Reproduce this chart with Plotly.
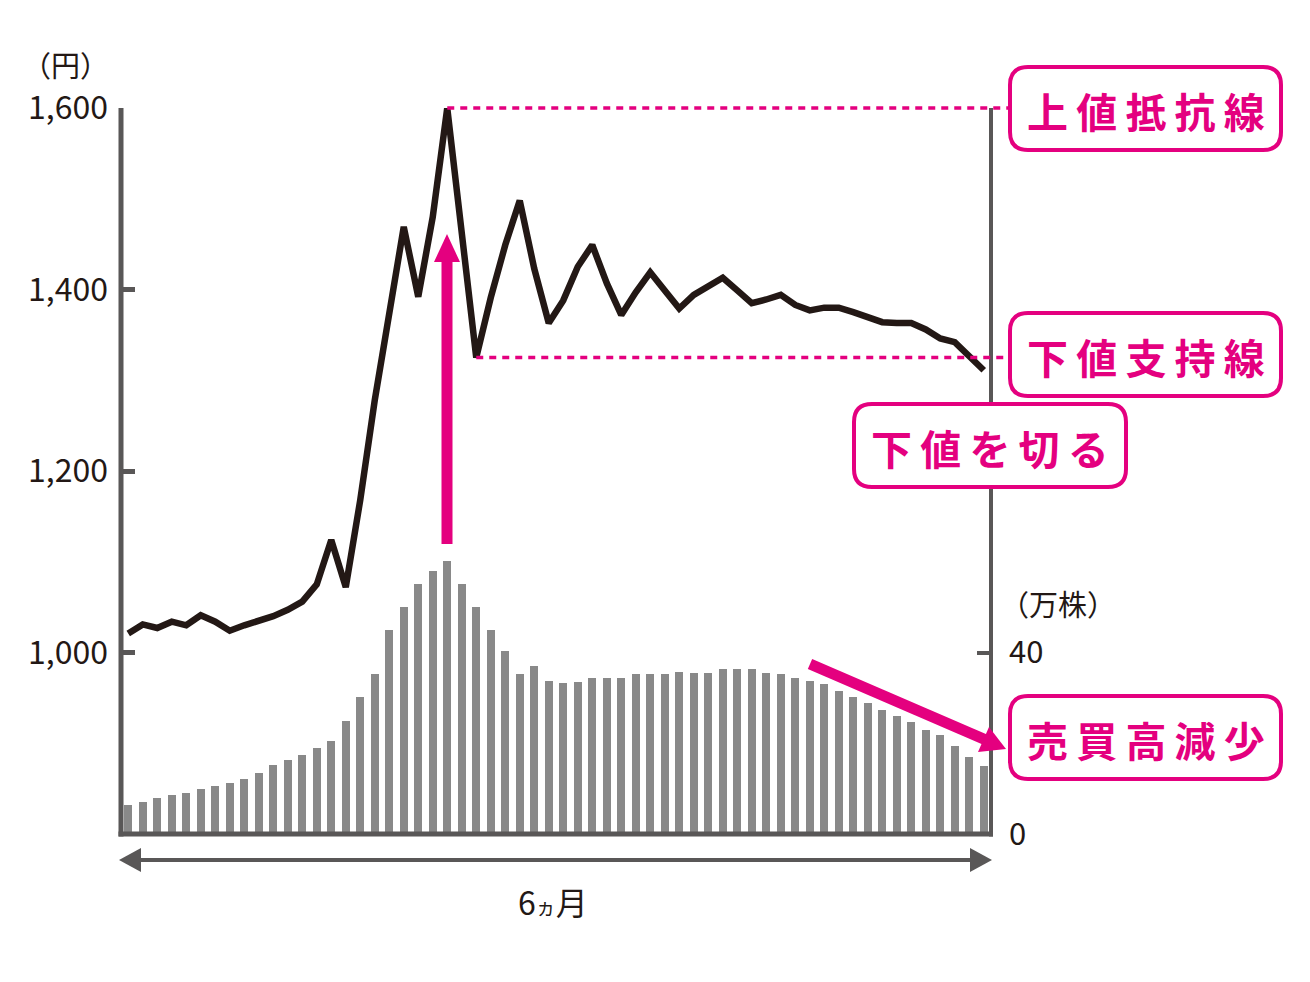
import plotly.graph_objects as go

# ---- data ----
days = list(range(60))
price = [1021, 1031, 1027, 1034, 1030, 1041, 1034, 1024, 1030, 1035,
         1040, 1047, 1056, 1075, 1124, 1072, 1168, 1278, 1377, 1469,
         1392, 1480, 1600, 1463, 1325, 1391, 1449, 1498, 1423, 1363,
         1388, 1425, 1449, 1407, 1372, 1397, 1419, 1399, 1379, 1394,
         1404, 1413, 1399, 1385, 1389, 1394, 1383, 1377, 1380, 1380,
         1375, 1370, 1364, 1363, 1363, 1356, 1346, 1342, 1327, 1311]
volume = [6.4, 7.1, 7.9, 8.6, 9.0, 9.9, 10.6, 11.3, 12.1, 13.5,
          15.2, 16.3, 17.4, 19.0, 20.5, 24.9, 30.2, 35.3, 45.0, 50.1,
          55.2, 58.0, 60.2, 55.2, 50.1, 45.0, 40.4, 35.3, 37.1, 33.8,
          33.3, 33.5, 34.4, 34.4, 34.4, 35.3, 35.3, 35.3, 35.7, 35.5,
          35.5, 36.4, 36.4, 36.4, 35.5, 35.3, 34.4, 33.8, 33.1, 31.6,
          30.2, 28.9, 27.4, 26.0, 24.7, 22.9, 21.8, 19.4, 17.0, 15.0]
price_ticks = [1000, 1200, 1400, 1600]
price_tick_text = ["1,000", "1,200", "1,400", "1,600"]
vol_ticks = [0, 40]
vol_tick_text = ["0", "40"]
resistance = 1600
support = 1325
resistance_idx = 22
support_idx = 24
labels = ["上値抵抗線", "下値支持線", "下値を切る", "売買高減少"]
period_label = "6<span style='font-size:20px'>ヵ</span>月"

P_RANGE = [800, 1600]
V_RANGE = [0, 160]
N = len(days)

MAG = "#E4007F"
AX = "#595757"
INK = "#231815"

W, H = 1310, 982
OFF = 8  # page body margin
L, R, T, B = 121, 991, 108, 834  # plot area in screen pixels


def px(x):
    return (x - L) / (R - L)


def py(y):
    return (B - y) / (B - T)


def idx_paper(i):
    return (i + 0.5) / N


def price_paper(p):
    return (p - P_RANGE[0]) / (P_RANGE[1] - P_RANGE[0])


fig = go.Figure()
fig.add_trace(go.Bar(x=days, y=volume, width=0.55, marker=dict(color="#898989", line=dict(width=0)),
                     yaxis="y", hoverinfo="skip"))
fig.add_trace(go.Scatter(x=days, y=price, mode="lines", line=dict(color=INK, width=6.5, shape="linear"),
                         yaxis="y2", hoverinfo="skip"))

shapes = []
# frame lines centred on the plot edges
shapes.append(dict(type="line", xref="paper", yref="paper", x0=0, x1=0, y0=-2.5 / (B - T), y1=1,
                   line=dict(color=AX, width=5), layer="above"))
shapes.append(dict(type="line", xref="paper", yref="paper", x0=1, x1=1, y0=-2.5 / (B - T), y1=1,
                   line=dict(color=AX, width=4), layer="above"))
shapes.append(dict(type="line", xref="paper", yref="paper", x0=-2.5 / (R - L), x1=1 + 2 / (R - L), y0=0, y1=0,
                   line=dict(color=AX, width=5), layer="above"))

shapes.append(dict(type="line", xref="paper", yref="paper",
                   x0=idx_paper(resistance_idx), x1=px(1010),
                   y0=price_paper(resistance), y1=price_paper(resistance),
                   line=dict(color=MAG, width=3.5, dash="7px,6px"), layer="above"))
shapes.append(dict(type="line", xref="paper", yref="paper",
                   x0=idx_paper(support_idx), x1=px(1010),
                   y0=price_paper(support), y1=price_paper(support),
                   line=dict(color=MAG, width=3.5, dash="7px,6px"), layer="above"))


def tri(p1, p2, p3, color):
    path = "M {},{} L {},{} L {},{} Z".format(px(p1[0]), py(p1[1]), px(p2[0]), py(p2[1]),
                                               px(p3[0]), py(p3[1]))
    return dict(type="path", xref="paper", yref="paper", path=path,
                fillcolor=color, line=dict(width=0), layer="above")


def seg(a, b, color, w):
    return dict(type="line", xref="paper", yref="paper", x0=px(a[0]), y0=py(a[1]),
                x1=px(b[0]), y1=py(b[1]), line=dict(color=color, width=w), layer="above")


# vertical magenta arrow
shapes.append(seg((447, 544), (447, 255), MAG, 11))
shapes.append(tri((447, 234), (434, 262), (460, 262), MAG))
# diagonal magenta arrow
shapes.append(seg((810, 664), (986, 740), MAG, 11))
shapes.append(tri((1006, 749), (978, 752), (989, 727), MAG))
# bottom period arrow
shapes.append(seg((136, 860), (976, 860), AX, 4))
shapes.append(tri((119, 860), (141, 848), (141, 872), AX))
shapes.append(tri((992, 860), (970, 848), (970, 872), AX))


def rbox(x0, y0, x1, y1, r=18):
    rx = r / (R - L)
    ry = r / (B - T)
    X0, X1 = px(x0), px(x1)
    Y0, Y1 = py(y1), py(y0)
    path = (f"M {X0+rx},{Y1} L {X1-rx},{Y1} Q {X1},{Y1} {X1},{Y1-ry} "
            f"L {X1},{Y0+ry} Q {X1},{Y0} {X1-rx},{Y0} "
            f"L {X0+rx},{Y0} Q {X0},{Y0} {X0},{Y0+ry} "
            f"L {X0},{Y1-ry} Q {X0},{Y1} {X0+rx},{Y1} Z")
    return dict(type="path", xref="paper", yref="paper", path=path,
                fillcolor="white", line=dict(color=MAG, width=4), layer="above")


boxes = [(1010, 67, 1281, 150), (1010, 313, 1281, 396), (854, 404, 1126, 487), (1010, 696, 1281, 779)]
for bx in boxes:
    shapes.append(rbox(*bx))

annotations = []
for (x0, y0, x1, y1), lab in zip(boxes, labels):
    txt = "\u2009".join(lab)
    annotations.append(dict(xref="paper", yref="paper", x=px((x0 + x1) / 2), y=py((y0 + y1) / 2 + 1),
                            text="<b>" + txt + "</b>", showarrow=False, xanchor="center", yanchor="middle",
                            font=dict(family="Noto Sans CJK JP", size=41, color=MAG)))

annotations.append(dict(xref="paper", yref="paper", x=px(65), y=py(64), text="（円）", showarrow=False,
                        xanchor="center", yanchor="middle",
                        font=dict(family="Noto Sans CJK JP", size=29, color=INK)))
annotations.append(dict(xref="paper", yref="paper", x=px(1058), y=py(603), text="（万株）", showarrow=False,
                        xanchor="center", yanchor="middle",
                        font=dict(family="Noto Sans CJK JP", size=29, color=INK)))
annotations.append(dict(xref="paper", yref="paper", x=px(553), y=py(901), text=period_label, showarrow=False,
                        xanchor="center", yanchor="middle",
                        font=dict(family="Noto Sans CJK JP", size=32, color=INK)))

fig.update_layout(
    width=W, height=H,
    margin=dict(l=L - OFF, r=W - (R - OFF), t=T - OFF, b=H - (B - OFF), pad=0),
    paper_bgcolor="white", plot_bgcolor="white",
    showlegend=False, bargap=0,
    xaxis=dict(range=[-0.5, N - 0.5], showticklabels=False, ticks="", showgrid=False, zeroline=False,
               showline=False, fixedrange=True),
    yaxis=dict(range=V_RANGE, side="right", tickvals=vol_ticks, ticktext=vol_tick_text,
               ticks="inside", ticklen=14, tickwidth=4, tickcolor=AX,
               showline=False, showgrid=False, zeroline=False,
               tickfont=dict(family="Noto Sans CJK JP", size=31, color=INK), ticklabelstandoff=17),
    yaxis2=dict(range=P_RANGE, side="left", overlaying="y", tickvals=price_ticks, ticktext=price_tick_text,
                ticks="inside", ticklen=14, tickwidth=5, tickcolor=AX,
                showline=False, showgrid=False, zeroline=False,
                tickfont=dict(family="Noto Sans CJK JP", size=32, color=INK), ticklabelstandoff=12),
    shapes=shapes,
    annotations=annotations,
)

fig.write_html("out.html")
